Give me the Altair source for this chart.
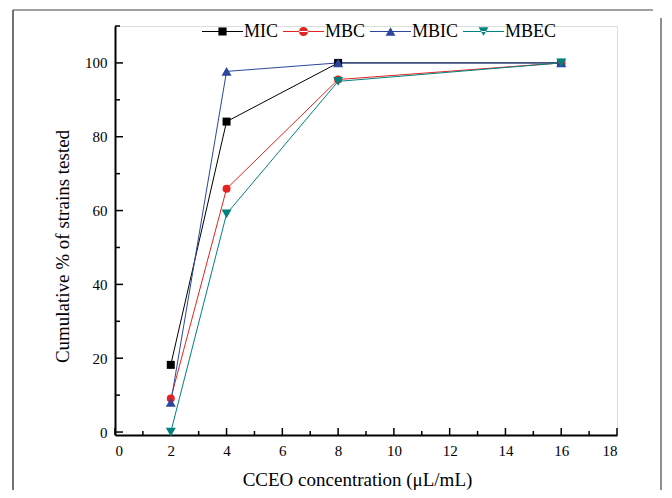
import altair as alt
import pandas as pd

series = ["MIC", "MBC", "MBIC", "MBEC"]
conc = [2, 4, 8, 16]
mic = [18.2, 84.1, 100, 100]
mbc = [9.1, 65.9, 95.5, 100]
mbic = [8.0, 97.7, 100, 100]
mbec = [0, 59.1, 95.0, 100]
colors = ["#000000", "#e52420", "#2b469c", "#008280"]
shapes = ["square", "circle", "triangle-up", "triangle-down"]
sizes = [64, 64, 100, 100]
LINE = "M-1,-0.026H1V0.026H-1Z"
legend_paths = [
    LINE + "M-0.2,-0.2H0.2V0.2H-0.2Z",
    LINE + "M-0.22,0A0.22,0.22 0 1,0 0.22,0A0.22,0.22 0 1,0 -0.22,0Z",
    LINE + "M0,-0.21L0.24,0.21L-0.24,0.21Z",
    LINE + "M0,0.21L0.24,-0.21L-0.24,-0.21Z",
]
legend_x = [87, 168, 255, 348]
x_major = [0, 2, 4, 6, 8, 10, 12, 14, 16, 18]
x_minor = [1, 3, 5, 7, 9, 11, 13, 15, 17]
y_major = [0, 20, 40, 60, 80, 100]
y_minor = [10, 30, 50, 70, 90, 110]

rows = []
for name, vals in zip(series, [mic, mbc, mbic, mbec]):
    for c, v in zip(conc, vals):
        rows.append({"series": name, "x": c, "y": v})
df = pd.DataFrame(rows)

W, H = 502, 409
FONT = "Liberation Serif"

xs = alt.Scale(domain=[0, 18], nice=False, zero=False)
ys = alt.Scale(domain=[-0.8, 110], nice=False, zero=False)

x_enc = alt.X("x:Q", scale=xs, axis=alt.Axis(
    values=x_major, ticks=False, grid=False, domainColor="black", domainWidth=2,
    labelFont=FONT, labelFontSize=15, labelColor="black", labelPadding=8,
    title="CCEO concentration (μL/mL)", titleFont=FONT, titleFontSize=19,
    titleFontWeight="normal", titleColor="black", titlePadding=12, titleX=242))
y_enc = alt.Y("y:Q", scale=ys, axis=alt.Axis(
    values=y_major, ticks=False, grid=False, domainColor="black", domainWidth=2,
    labelFont=FONT, labelFontSize=15, labelColor="black", labelPadding=8,
    title="Cumulative % of strains tested", titleFont=FONT, titleFontSize=19,
    titleFontWeight="normal", titleColor="black", titlePadding=12, titleY=220))
xq = alt.X("x:Q", scale=xs)
yq = alt.Y("y:Q", scale=ys)


def make_legend(i):
    return alt.Legend(title=None, orient="none", legendX=legend_x[i], legendY=-15,
                      symbolSize=1681, symbolStrokeWidth=0,
                      labelFont=FONT, labelFontSize=18, labelColor="black",
                      labelOffset=1, padding=0)


layers = []
for i, name in enumerate(series):
    sub = df[df.series == name]
    layers.append(alt.Chart(sub).mark_line(strokeWidth=1, color=colors[i]).encode(
        x=x_enc, y=y_enc, order="x:Q"))
for i, name in enumerate(series):
    sub = df[df.series == name]
    layers.append(alt.Chart(sub).mark_point(
        filled=True, opacity=1, size=sizes[i], shape=shapes[i], color=colors[i]
    ).encode(x=xq, y=yq))

one = lambda i: alt.Scale(domain=[series[i]], range=[colors[i]])
leg0 = alt.Chart(df[df.series == series[0]]).mark_point(
    filled=True, opacity=1, color=colors[0]).encode(
    x=xq, y=yq,
    shape=alt.Shape("series:N", scale=alt.Scale(domain=[series[0]], range=[legend_paths[0]]),
                    legend=make_legend(0))).transform_filter("false")
leg1 = alt.Chart(df[df.series == series[1]]).mark_point(
    filled=True, opacity=1, shape=legend_paths[1]).encode(
    x=xq, y=yq,
    color=alt.Color("series:N", scale=one(1), legend=make_legend(1))).transform_filter("false")
leg2 = alt.Chart(df[df.series == series[2]]).mark_point(
    filled=True, opacity=1, shape=legend_paths[2]).encode(
    x=xq, y=yq,
    fill=alt.Fill("series:N", scale=one(2), legend=make_legend(2))).transform_filter("false")
leg3 = alt.Chart(df[df.series == series[3]]).mark_point(
    filled=True, opacity=1, shape=legend_paths[3], color=colors[3]).encode(
    x=xq, y=yq,
    strokeDash=alt.StrokeDash("series:N", scale=alt.Scale(domain=[series[3]], range=[[1, 0]]),
                              legend=make_legend(3))).transform_filter("false")

tick_df_xM = pd.DataFrame({"v": x_major})
tick_df_xm = pd.DataFrame({"v": x_minor})
tick_df_yM = pd.DataFrame({"v": y_major})
tick_df_ym = pd.DataFrame({"v": y_minor})

xt_major = alt.Chart(tick_df_xM).mark_rule(color="black", strokeWidth=1.5).encode(
    x=alt.X("v:Q", scale=xs), y=alt.value(H), y2=alt.value(H - 7))
xt_minor = alt.Chart(tick_df_xm).mark_rule(color="black", strokeWidth=1.5).encode(
    x=alt.X("v:Q", scale=xs), y=alt.value(H), y2=alt.value(H - 4))
yt_major = alt.Chart(tick_df_yM).mark_rule(color="black", strokeWidth=1.5).encode(
    y=alt.Y("v:Q", scale=ys), x=alt.value(0), x2=alt.value(8))
yt_minor = alt.Chart(tick_df_ym).mark_rule(color="black", strokeWidth=1.5).encode(
    y=alt.Y("v:Q", scale=ys), x=alt.value(0), x2=alt.value(5))

fd = pd.DataFrame({"a": [0]})
f_left = alt.Chart(fd).mark_rule(color="#444444", strokeWidth=1.5).encode(
    x=alt.value(-102), y=alt.value(-16), y2=alt.value(490))
f_top = alt.Chart(fd).mark_rule(color="#444444", strokeWidth=1.2).encode(
    x=alt.value(-102), x2=alt.value(538), y=alt.value(-16))
f_right = alt.Chart(fd).mark_rule(color="#444444", strokeWidth=1.2).encode(
    x=alt.value(546), y=alt.value(-8), y2=alt.value(490))

chart = alt.layer(
    f_left, f_top, f_right, xt_major, xt_minor, yt_major, yt_minor,
    *layers, leg0, leg1, leg2, leg3
).resolve_scale(shape="independent", color="independent", fill="independent",
                strokeDash="independent").properties(
    width=W, height=H,
    autosize=alt.AutoSizeParams(type="none"),
    padding={"left": 107, "top": 18, "right": 47, "bottom": 55},
).configure_view(stroke=None).configure_axis(
    labelFont=FONT, titleFont=FONT
).configure(background="white")

chart.save("out.html", embed_options={"renderer": "svg", "actions": False})
